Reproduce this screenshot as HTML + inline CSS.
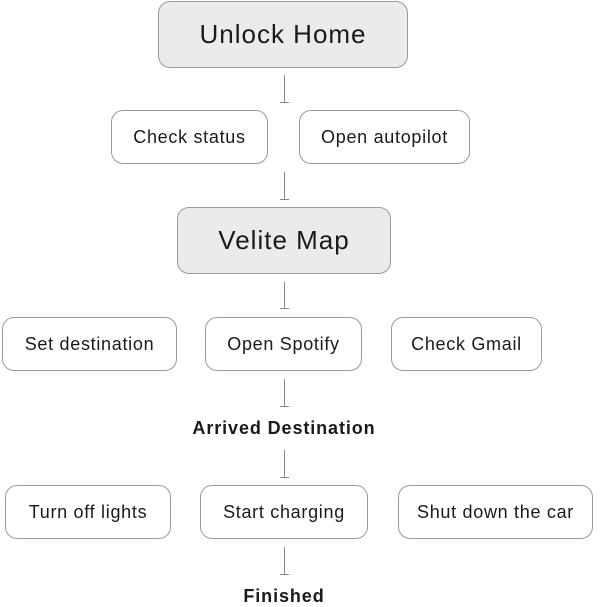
<!DOCTYPE html>
<html><head><meta charset="utf-8"><style>
body{margin:0;width:600px;height:604px;background:#fff;position:relative;overflow:hidden;font-family:"Liberation Sans",sans-serif;color:#1a1a1a}
.b{position:absolute;box-sizing:border-box;border:1.5px solid #9a9a9a;border-radius:12px;background:#fff;display:flex;align-items:center;justify-content:center;font-size:18px;letter-spacing:0.7px}
.g{background:#ebebeb;font-size:26px;letter-spacing:1px}
.c{position:absolute;width:1px;background:#888}
.c::after{content:"";position:absolute;left:-4px;bottom:0;width:9px;height:1px;background:#888}
.t{position:absolute;width:600px;left:-16px;text-align:center;font-weight:bold;font-size:18px;letter-spacing:0.9px}
</style></head><body>
<div class="b g" style="left:158px;top:1px;width:250px;height:67px">Unlock Home</div>
<div class="c" style="left:284px;top:75px;height:28px"></div>
<div class="b" style="left:111px;top:110px;width:157px;height:54px">Check status</div>
<div class="b" style="left:299px;top:110px;width:171px;height:54px">Open autopilot</div>
<div class="c" style="left:284px;top:172px;height:28px"></div>
<div class="b g" style="left:177px;top:207px;width:214px;height:67px">Velite Map</div>
<div class="c" style="left:284px;top:282px;height:27px"></div>
<div class="b" style="left:2px;top:317px;width:175px;height:54px">Set destination</div>
<div class="b" style="left:205px;top:317px;width:157px;height:54px">Open Spotify</div>
<div class="b" style="left:391px;top:317px;width:151px;height:54px">Check Gmail</div>
<div class="c" style="left:284px;top:379px;height:28px"></div>
<div class="t" style="top:418px">Arrived Destination</div>
<div class="c" style="left:284px;top:450px;height:28px"></div>
<div class="b" style="left:5px;top:485px;width:166px;height:54px">Turn off lights</div>
<div class="b" style="left:200px;top:485px;width:168px;height:54px">Start charging</div>
<div class="b" style="left:398px;top:485px;width:195px;height:54px">Shut down the car</div>
<div class="c" style="left:284px;top:547px;height:28px"></div>
<div class="t" style="top:586px">Finished</div>
</body></html>
